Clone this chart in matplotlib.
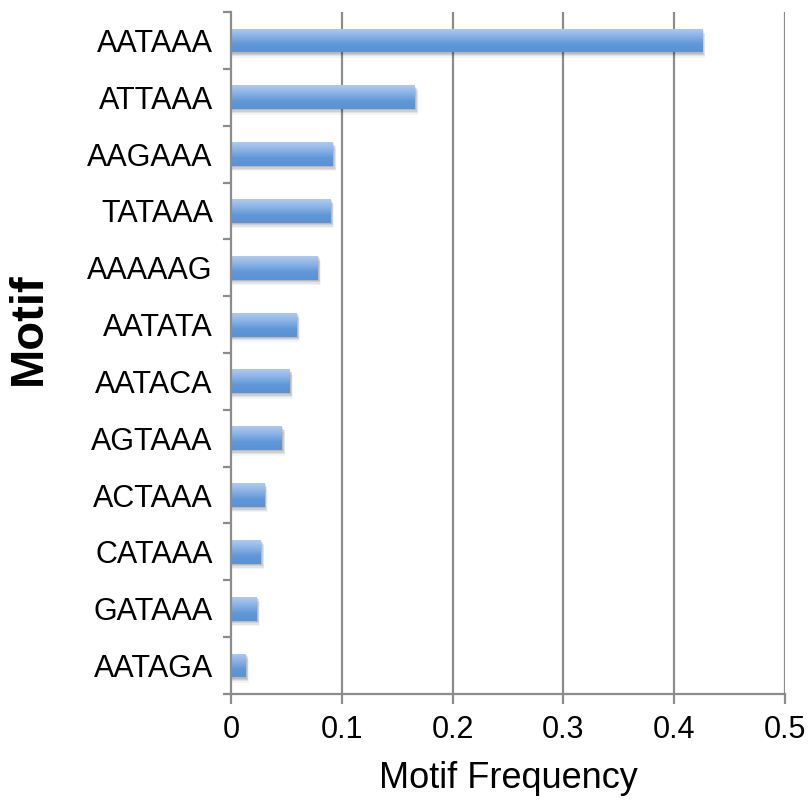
import numpy as np
import matplotlib.pyplot as plt
from matplotlib.patches import Rectangle

# モチーフと出現頻度（上から順）
motifs = ["AATAAA", "ATTAAA", "AAGAAA", "TATAAA", "AAAAAG", "AATATA",
          "AATACA", "AGTAAA", "ACTAAA", "CATAAA", "GATAAA", "AATAGA"]
freqs = [0.425, 0.166, 0.092, 0.090, 0.078, 0.059,
         0.053, 0.046, 0.030, 0.027, 0.023, 0.013]
xticks = [0, 0.1, 0.2, 0.3, 0.4, 0.5]
xtick_labels = ["0", "0.1", "0.2", "0.3", "0.4", "0.5"]

plt.rcParams['font.family'] = ['Liberation Sans', 'DejaVu Sans']

fig = plt.figure(figsize=(8.09, 8.05), dpi=100)
ax = fig.add_axes([0.2855, 0.138, 0.685, 0.847])

grid_color = "#8c8c8c"
n = len(motifs)
ypos = np.arange(n)
h = 0.42

ax.set_xlim(0, 0.5)
ax.set_ylim(n - 0.5, -0.5)

# 縦のグリッド線
for x in xticks[1:]:
    ax.axvline(x, color=grid_color, lw=1.6, zorder=0)

# ぼかした影（少しずつずらした灰色の棒を重ねる）
for dy, dx, a in [(0.02, 0.0008, 0.10), (0.045, 0.0015, 0.09),
                  (0.07, 0.002, 0.07), (0.095, 0.0025, 0.04)]:
    ax.barh(ypos + dy, [v + dx for v in freqs], height=h, left=0.0005,
            color="black", alpha=a, zorder=1, linewidth=0)

# グラデーション付きの棒
grad = np.linspace(0, 1, 64).reshape(-1, 1)
cmap = plt.matplotlib.colors.LinearSegmentedColormap.from_list(
    "bar", ["#aecbee", "#8ab3e5", "#5f97d8", "#5a92d5"])
for y, v in zip(ypos, freqs):
    rect = Rectangle((0, y - h / 2), v, h, facecolor="none",
                     edgecolor="none", zorder=2)
    ax.add_patch(rect)
    im = ax.imshow(grad, cmap=cmap, aspect="auto",
                   extent=(0, v, y + h / 2, y - h / 2), zorder=2,
                   interpolation="bilinear")
    im.set_clip_path(rect)

ax.set_xlim(0, 0.5)
ax.set_ylim(n - 0.5, -0.5)

ax.set_xticks(xticks)
ax.set_xticklabels(xtick_labels, fontsize=22)
ax.set_yticks(ypos)
ax.set_yticklabels(motifs, fontsize=22)
ax.tick_params(axis="y", length=0, pad=13)
ax.set_yticks(np.arange(n + 1) - 0.5, minor=True)
ax.tick_params(axis="y", which="minor", length=6, width=1.6, color=grid_color)
ax.tick_params(axis="x", length=7, width=1.6, color=grid_color, pad=8)

for side in ["top", "right"]:
    ax.spines[side].set_visible(False)
for side in ["left", "bottom"]:
    ax.spines[side].set_color(grid_color)
    ax.spines[side].set_linewidth(1.6)

ax.set_xlabel("Motif Frequency", fontsize=26, labelpad=12)
ax.set_ylabel("Motif", fontsize=34, fontweight="bold")
ax.yaxis.set_label_coords(-0.325, 0.535)

fig.savefig("out.png", dpi=100)
